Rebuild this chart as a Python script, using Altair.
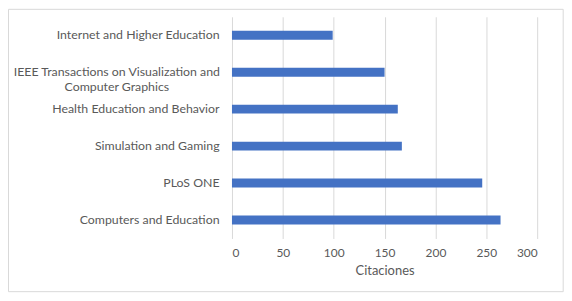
import altair as alt
import pandas as pd

journals = [
    "Internet and Higher Education",
    "IEEE Transactions on Visualization and Computer Graphics",
    "Health Education and Behavior",
    "Simulation and Gaming",
    "PLoS ONE",
    "Computers and Education",
]
citations = [99, 150, 163, 167, 246, 264]
x_ticks = [0, 50, 100, 150, 200, 250, 300]

df = pd.DataFrame({"journal": journals, "citations": citations})

FONT = "Lato"
GRAY = "#595959"
LABEL_SIZE = 12.4

ieee = journals[1]
label_expr = f"datum.label == '{ieee}' ? '' : datum.label"

y_enc = alt.Y(
    "journal:N", sort=journals,
    scale=alt.Scale(paddingInner=0.76, paddingOuter=0.38),
    axis=alt.Axis(
        title=None, domain=False, ticks=False, grid=False, labelFont=FONT,
        labelFontSize=LABEL_SIZE, labelColor=GRAY, labelPadding=13, labelLimit=300,
        labelExpr=label_expr,
    ),
)

bars = alt.Chart(df).mark_bar(color="#4472C4").encode(
    x=alt.X(
        "citations:Q",
        scale=alt.Scale(domain=[0, 300], nice=False),
        axis=alt.Axis(
            values=x_ticks, title="Citaciones", grid=True, gridColor="#d9d9d9",
            domain=False, ticks=False, labelFont=FONT, labelFontSize=12,
            labelColor=GRAY, labelPadding=9, titleFont=FONT, titleFontSize=13,
            titleFontWeight="normal", titleColor=GRAY, titlePadding=6,
        ),
    ),
    y=y_enc,
)

ieee_label = alt.Chart(df).transform_filter(
    alt.datum.journal == ieee
).transform_calculate(
    lbl="'IEEE Transactions on Visualization and\\nComputer Graphics'"
).mark_text(
    font=FONT, fontSize=LABEL_SIZE, color=GRAY, align="center", baseline="middle",
    lineBreak="\n", lineHeight=14.5,
).encode(
    x=alt.value(-115.8), y=alt.Y("journal:N", sort=journals), text="lbl:N"
)

border = alt.Chart(pd.DataFrame({"k": [0]})).mark_rect(
    fill=None, stroke="#d9d9d9", strokeWidth=1
).encode(
    x=alt.value(-224.8), x2=alt.value(333.2), y=alt.value(-7.5), y2=alt.value(276.5)
)

chart = alt.layer(border, bars, ieee_label).properties(
    width=307, height=223,
    autosize=alt.AutoSizeParams(type="none"),
    padding={"left": 225.3, "top": 8, "right": 27, "bottom": 54},
).configure_view(stroke=None)

chart.save("out.html", embed_options={"renderer": "svg", "actions": False})
